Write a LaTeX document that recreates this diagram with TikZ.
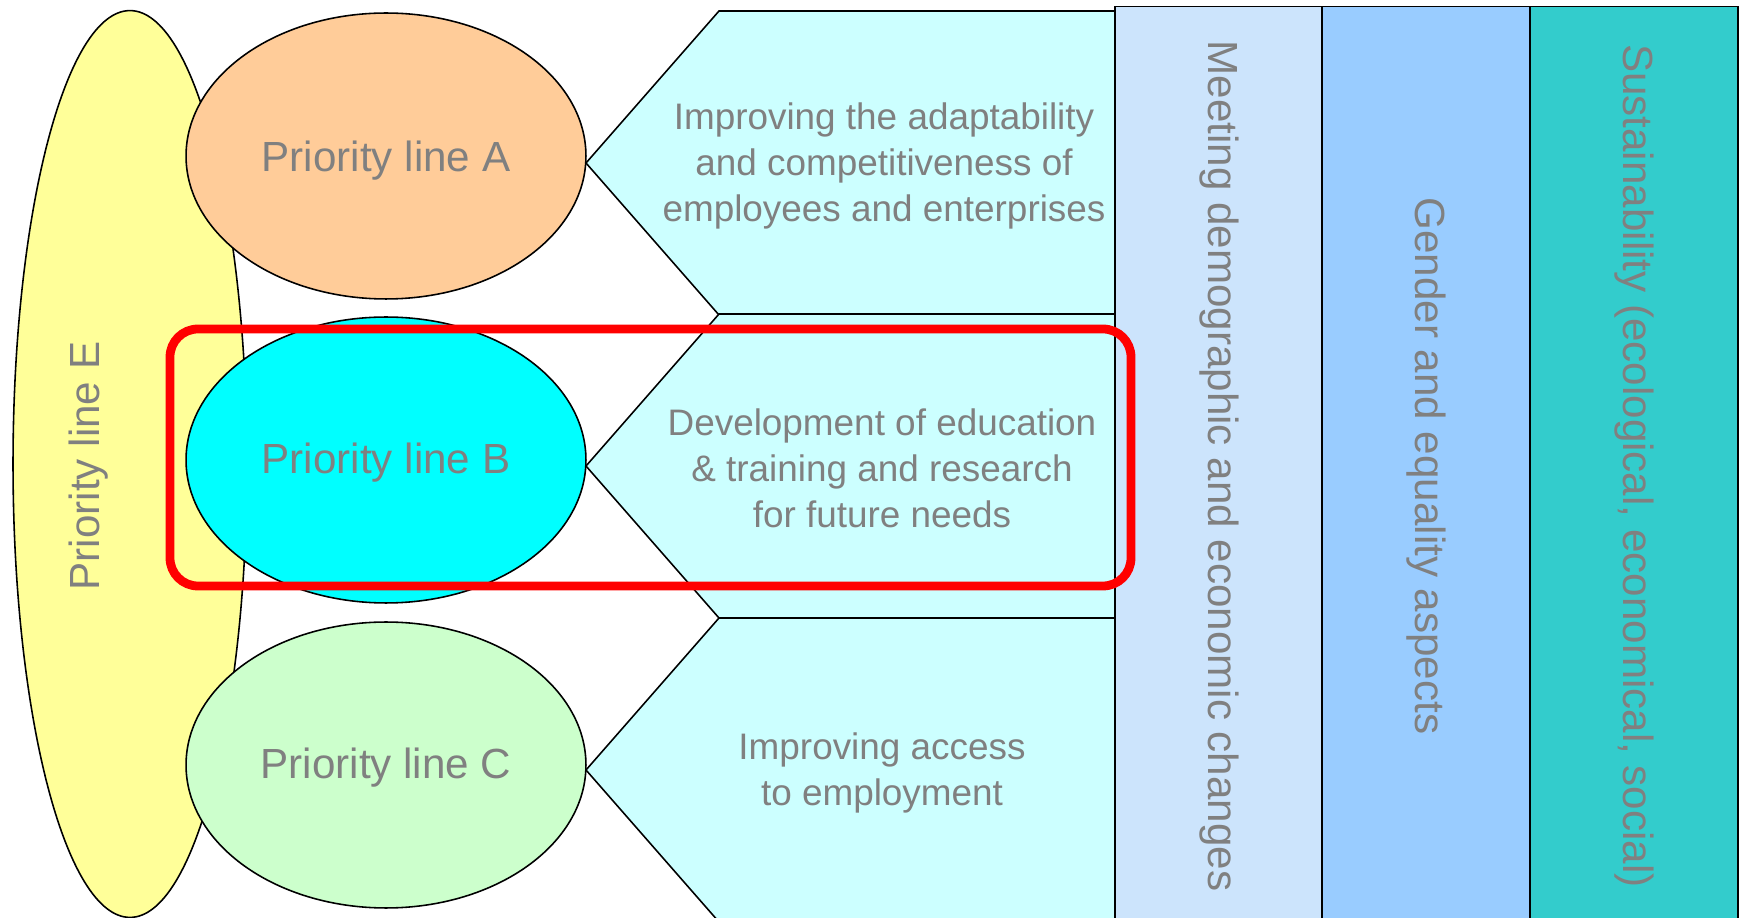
\documentclass[tikz,border=0pt]{standalone}
\usepackage{fontspec}
\setmainfont{Liberation Sans}
\usetikzlibrary{shapes.geometric}

\definecolor{labelgray}{HTML}{808080}
\definecolor{lineE}{HTML}{FFFF99}
\definecolor{lineA}{HTML}{FFCC99}
\definecolor{lineB}{HTML}{00FFFF}
\definecolor{lineC}{HTML}{CCFFCC}
\definecolor{goalfill}{HTML}{CCFFFF}
\definecolor{colmeet}{HTML}{CCE4FC}
\definecolor{colgender}{HTML}{99CCFF}
\definecolor{colsustain}{HTML}{33CCCC}

\begin{document}
\begin{tikzpicture}[x=0.02cm, y=-0.02cm, line width=0.9pt]
    \tikzstyle{lbl}=[text=labelgray, font=\fontsize{24}{29}\selectfont, inner sep=0pt]
    \tikzstyle{priority}=[lbl, ellipse, draw=black, minimum width=8cm, minimum height=5.72cm]
    \tikzstyle{goal}=[draw=black, fill=goalfill]
    \tikzstyle{goaltext}=[text=labelgray, font=\fontsize{21}{26.2}\selectfont, align=center, inner sep=0pt]
    \tikzstyle{column}=[lbl, draw=black, rectangle, rotate=-90, minimum width=18.38cm, minimum height=4.16cm]
    \tikzstyle{focus}=[draw=red, line width=5pt, rounded corners=0.56cm]

    \useasboundingbox (0,0) rectangle (1739,918);

    % Priority line E behind the others
    \node[ellipse, draw=black, fill=lineE, minimum width=4.68cm, minimum height=18.14cm, inner sep=0pt] (E) at (130,464) {};
    \node[lbl, rotate=90] (E-label) at (89,466) {Priority line E};

    % Goal arrows pointing at the priority lines
    \foreach \name / \y in {A/163, B/466, C/770}
        \draw[goal] (1115,\y-152) -- (719,\y-152) -- (586,\y) -- (719,\y+152) -- (1115,\y+152) -- cycle;

    % Priority lines A, B and C
    \node[priority, fill=lineA] (A) at (386,156) {};
    \node[priority, fill=lineB] (B) at (386,460) {};
    \node[priority, fill=lineC] (C) at (386,765) {};
    \node[lbl] at ([yshift=-0.1cm]A.center) {Priority line A};
    \node[lbl] at ([yshift=-0.05cm]B.center) {Priority line B};
    \node[lbl] at ([yshift=-0.05cm]C.center) {Priority line C};

    % Texts of the goals
    \node[goaltext] (G-A) at (884,166) {Improving the adaptability\\and competitiveness of\\employees and enterprises};
    \node[goaltext] (G-B) at (882,468) {Development of education\\\& training and research\\for future needs};
    \node[goaltext] (G-C) at (882,773) {Improving access\\to employment};

    % Cross-cutting columns
    \node[column, fill=colmeet] (M) at (1219,466) {Meeting demographic and economic changes};
    \node[column, fill=colgender] (G) at (1426,466) {Gender and equality aspects};
    \node[column, fill=colsustain] (S) at (1634,466) {Sustainability (ecological, economical, social)};

    % Highlight of priority line B
    \draw[focus] (170,329) rectangle (1131,586);
\end{tikzpicture}
\end{document}
